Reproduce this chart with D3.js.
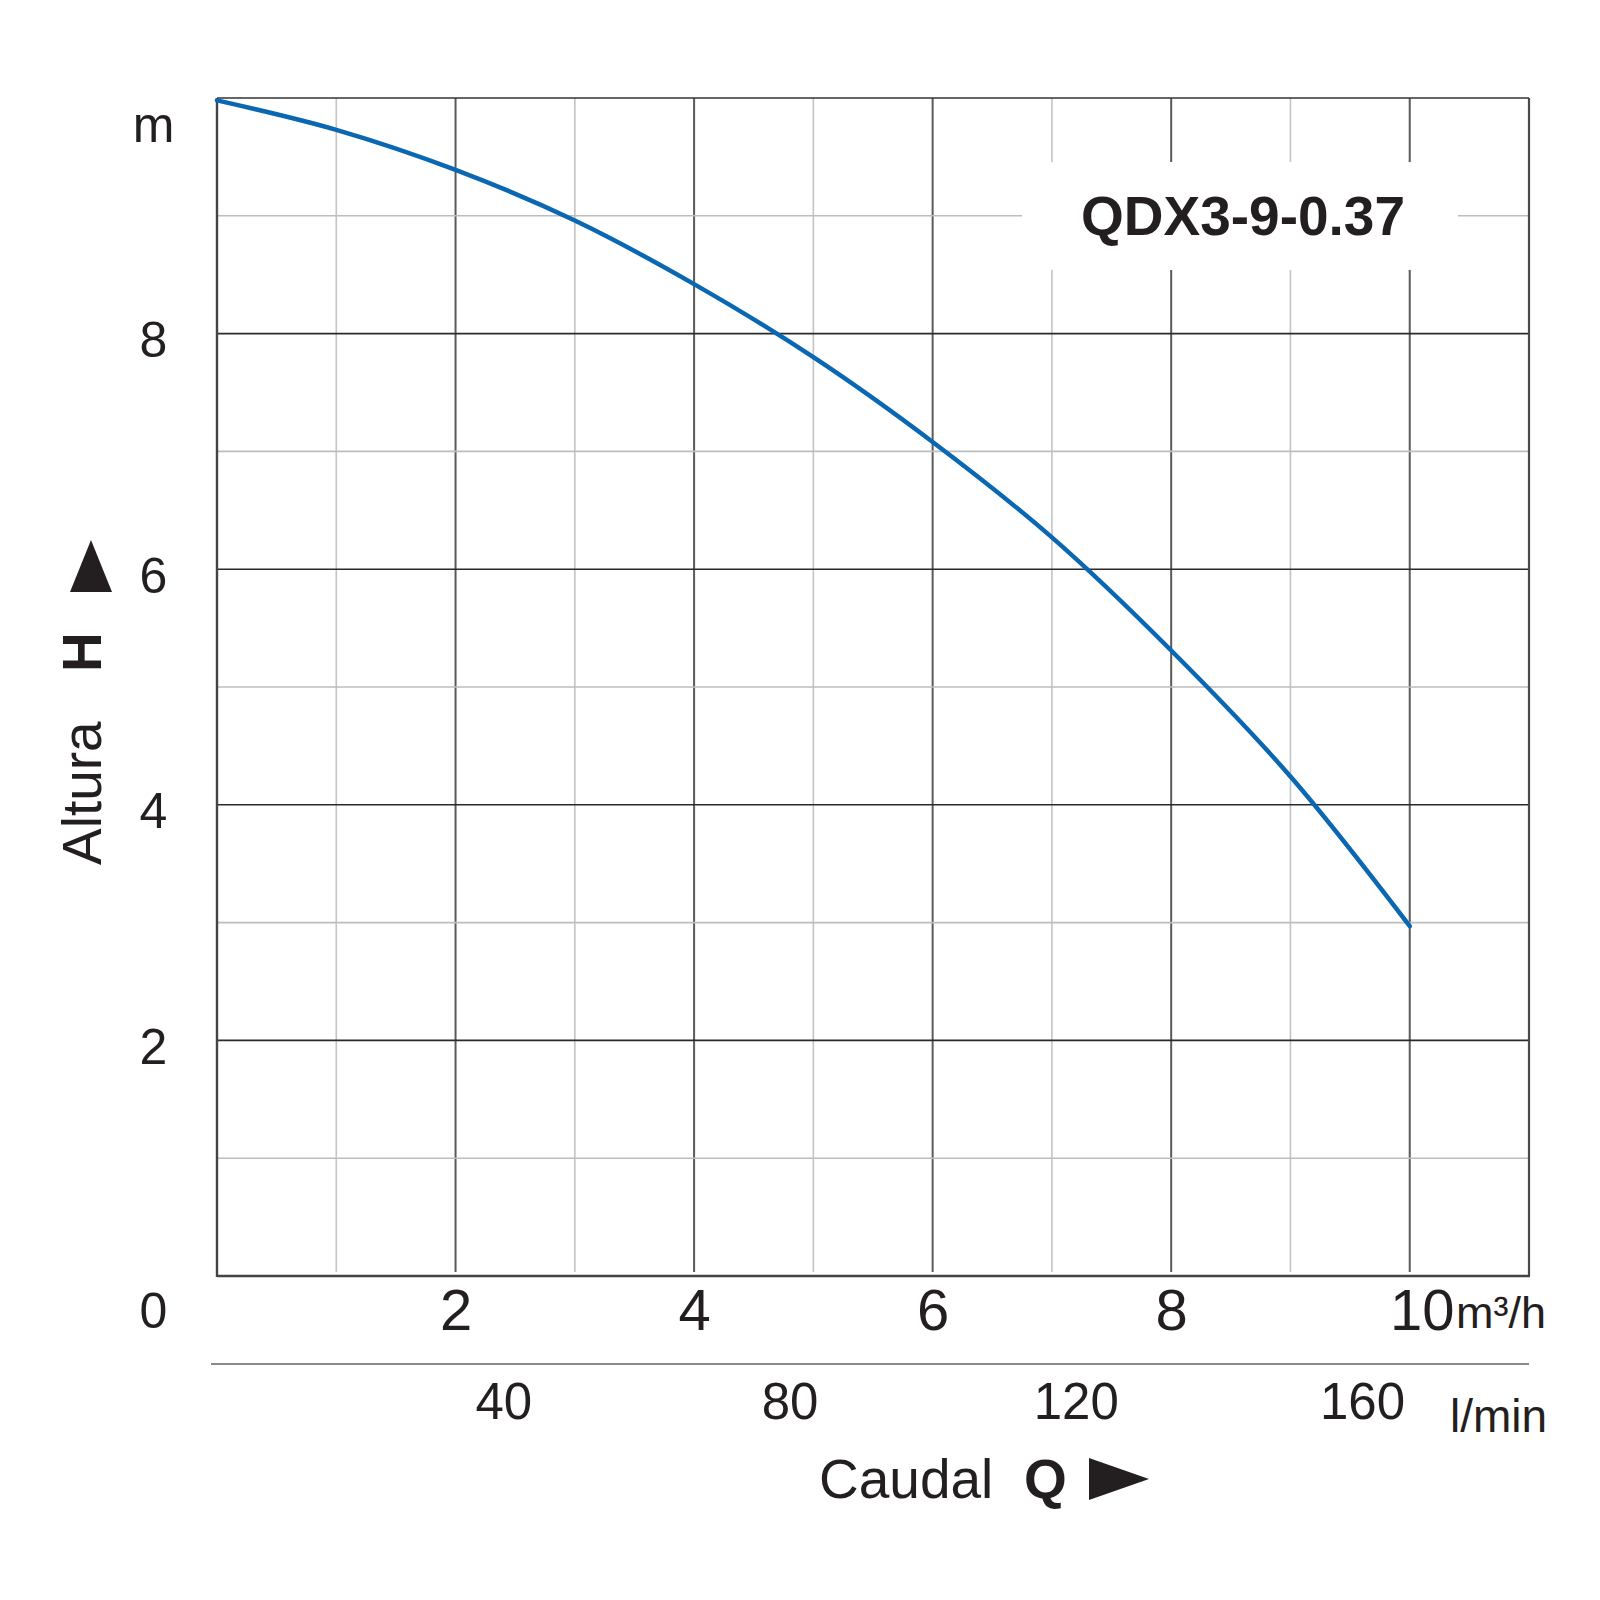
<!DOCTYPE html>
<html><head><meta charset="utf-8">
<script src="https://cdn.jsdelivr.net/npm/d3@7"></script>
<style>body{margin:0;background:#fff} svg{display:block}</style>
</head><body><svg id="c" width="1600" height="1600"></svg>
<script>
// ---- data ----
const flowM3h = [0, 1, 2, 3, 4, 5, 6, 7, 8, 9, 10];
const headM   = [9.98, 9.73, 9.39, 8.96, 8.42, 7.80, 7.08, 6.27, 5.31, 4.24, 2.97];
const xTicks = [2, 4, 6, 8, 10];
const yTicks = [2, 4, 6, 8];
const lminTicks = [40, 80, 120, 160];
const gridX = [1, 2, 3, 4, 5, 6, 7, 8, 9, 10];
const gridY = [1, 2, 3, 4, 5, 6, 7, 8, 9];
const modelName = "QDX3-9-0.37";

// ---- setup ----
const svg = d3.select("#c");
const FONT = "'Liberation Sans', Arial, Helvetica, sans-serif";
const INK = "#231f20";
const L = 217, R = 1529, T = 98, B = 1276;
const x = d3.scaleLinear().domain([0, 11]).range([L, R]);
const y = d3.scaleLinear().domain([0, 10]).range([B, T]);

svg.append("rect").attr("width", 1600).attr("height", 1600).attr("fill", "#fff");

// grid
const g = svg.append("g");
g.selectAll("line.gx").data(gridX).join("line")
  .attr("x1", d => x(d)).attr("x2", d => x(d))
  .attr("y1", T).attr("y2", B - 4)
  .attr("stroke", d => d % 2 === 0 ? "#5a5a5a" : "#c4c4c4")
  .attr("stroke-width", d => d % 2 === 0 ? 2 : 1.6);
g.selectAll("line.gy").data(gridY).join("line")
  .attr("x1", L).attr("x2", R)
  .attr("y1", d => y(d)).attr("y2", d => y(d))
  .attr("stroke", d => d % 2 === 0 ? "#2a2a2a" : "#bdbdbd")
  .attr("stroke-width", 1.6);

// frame
g.append("line").attr("x1", L).attr("x2", R).attr("y1", T).attr("y2", T)
  .attr("stroke", "#333").attr("stroke-width", 1.6);
g.append("line").attr("x1", R).attr("x2", R).attr("y1", T).attr("y2", B)
  .attr("stroke", "#4a4a4a").attr("stroke-width", 2.2);
g.append("line").attr("x1", L).attr("x2", L).attr("y1", T).attr("y2", B + 1)
  .attr("stroke", "#444").attr("stroke-width", 2.4);
g.append("line").attr("x1", L).attr("x2", R + 1).attr("y1", B).attr("y2", B)
  .attr("stroke", "#444").attr("stroke-width", 2.4);

// title box
svg.append("rect").attr("x", 1022).attr("y", 162).attr("width", 436).attr("height", 108).attr("fill", "#fff");
svg.append("text").attr("x", 1243).attr("y", 235).attr("text-anchor", "middle")
  .attr("font-family", FONT).attr("font-weight", "bold").attr("font-size", 55)
  .attr("fill", INK).text(modelName);

// curve
const pts = flowM3h.map((q, i) => [q, headM[i]]);
svg.append("path").datum(pts)
  .attr("d", d3.line().x(d => x(d[0])).y(d => y(d[1])).curve(d3.curveCatmullRom.alpha(0.5)))
  .attr("fill", "none").attr("stroke", "#0a67b2").attr("stroke-width", 4.5)
  .attr("stroke-linecap", "round");

// bottom axis (m3/h)
const xAxis = svg.append("g").attr("transform", `translate(0,${B})`)
  .call(d3.axisBottom(x).tickValues(xTicks).tickSize(0).tickPadding(0).tickFormat(d3.format("d")));
xAxis.select(".domain").remove();
xAxis.selectAll("text").attr("y", 54).attr("dy", null)
  .attr("font-family", FONT).attr("font-size", 58).attr("fill", INK);
xAxis.selectAll(".tick").filter(d => d === 10).select("text").attr("dx", 12);
svg.append("text").attr("x", 1456).attr("y", 1328)
  .attr("font-family", FONT).attr("font-size", 45).attr("fill", INK).text("m³/h");

// left axis
const yAxis = svg.append("g").attr("transform", `translate(153.5,0)`)
  .call(d3.axisLeft(y).tickValues(yTicks).tickSize(0).tickPadding(0).tickFormat(d3.format("d")));
yAxis.select(".domain").remove();
yAxis.selectAll("text").attr("x", 0).attr("dy", 23).attr("text-anchor", "middle")
  .attr("font-family", FONT).attr("font-size", 50).attr("fill", INK);
svg.append("text").attr("x", 153.5).attr("y", y(10) + 44).attr("text-anchor", "middle")
  .attr("font-family", FONT).attr("font-size", 50).attr("fill", INK).text("m");
svg.append("text").attr("x", 153.5).attr("y", 1328).attr("text-anchor", "middle")
  .attr("font-family", FONT).attr("font-size", 50).attr("fill", INK).text("0");

// secondary axis (l/min)
svg.append("line").attr("x1", 211).attr("x2", R).attr("y1", 1364).attr("y2", 1364)
  .attr("stroke", "#8a8a8a").attr("stroke-width", 2);
const lAxis = svg.append("g").attr("transform", "translate(0,1364)")
  .call(d3.axisBottom(x).tickValues(lminTicks.map(v => v * 60 / 1000)).tickSize(0).tickPadding(0)
    .tickFormat(d => d3.format("d")(Math.round(d * 1000 / 60))));
lAxis.select(".domain").remove();
lAxis.selectAll("text").attr("y", 55).attr("dy", null)
  .attr("font-family", FONT).attr("font-size", 51).attr("fill", INK);
svg.append("text").attr("x", 1450).attr("y", 1432)
  .attr("font-family", FONT).attr("font-size", 46).attr("fill", INK).text("l/min");

// x title
svg.append("text").attr("x", 819).attr("y", 1498)
  .attr("font-family", FONT).attr("font-size", 55).attr("fill", INK).text("Caudal");
svg.append("text").attr("x", 1024).attr("y", 1498)
  .attr("font-family", FONT).attr("font-size", 55).attr("font-weight", "bold").attr("fill", INK).text("Q");
svg.append("path").attr("d", "M1089,1458 L1149,1479 L1089,1500 Z").attr("fill", INK);

// y title
svg.append("text").attr("transform", "translate(101,865) rotate(-90)")
  .attr("font-family", FONT).attr("font-size", 55).attr("fill", INK).text("Altura");
svg.append("text").attr("transform", "translate(101,672) rotate(-90)")
  .attr("font-family", FONT).attr("font-size", 55).attr("font-weight", "bold").attr("fill", INK).text("H");
svg.append("path").attr("d", "M70,592 L112,592 L91,540 Z").attr("fill", INK);
</script></body></html>
